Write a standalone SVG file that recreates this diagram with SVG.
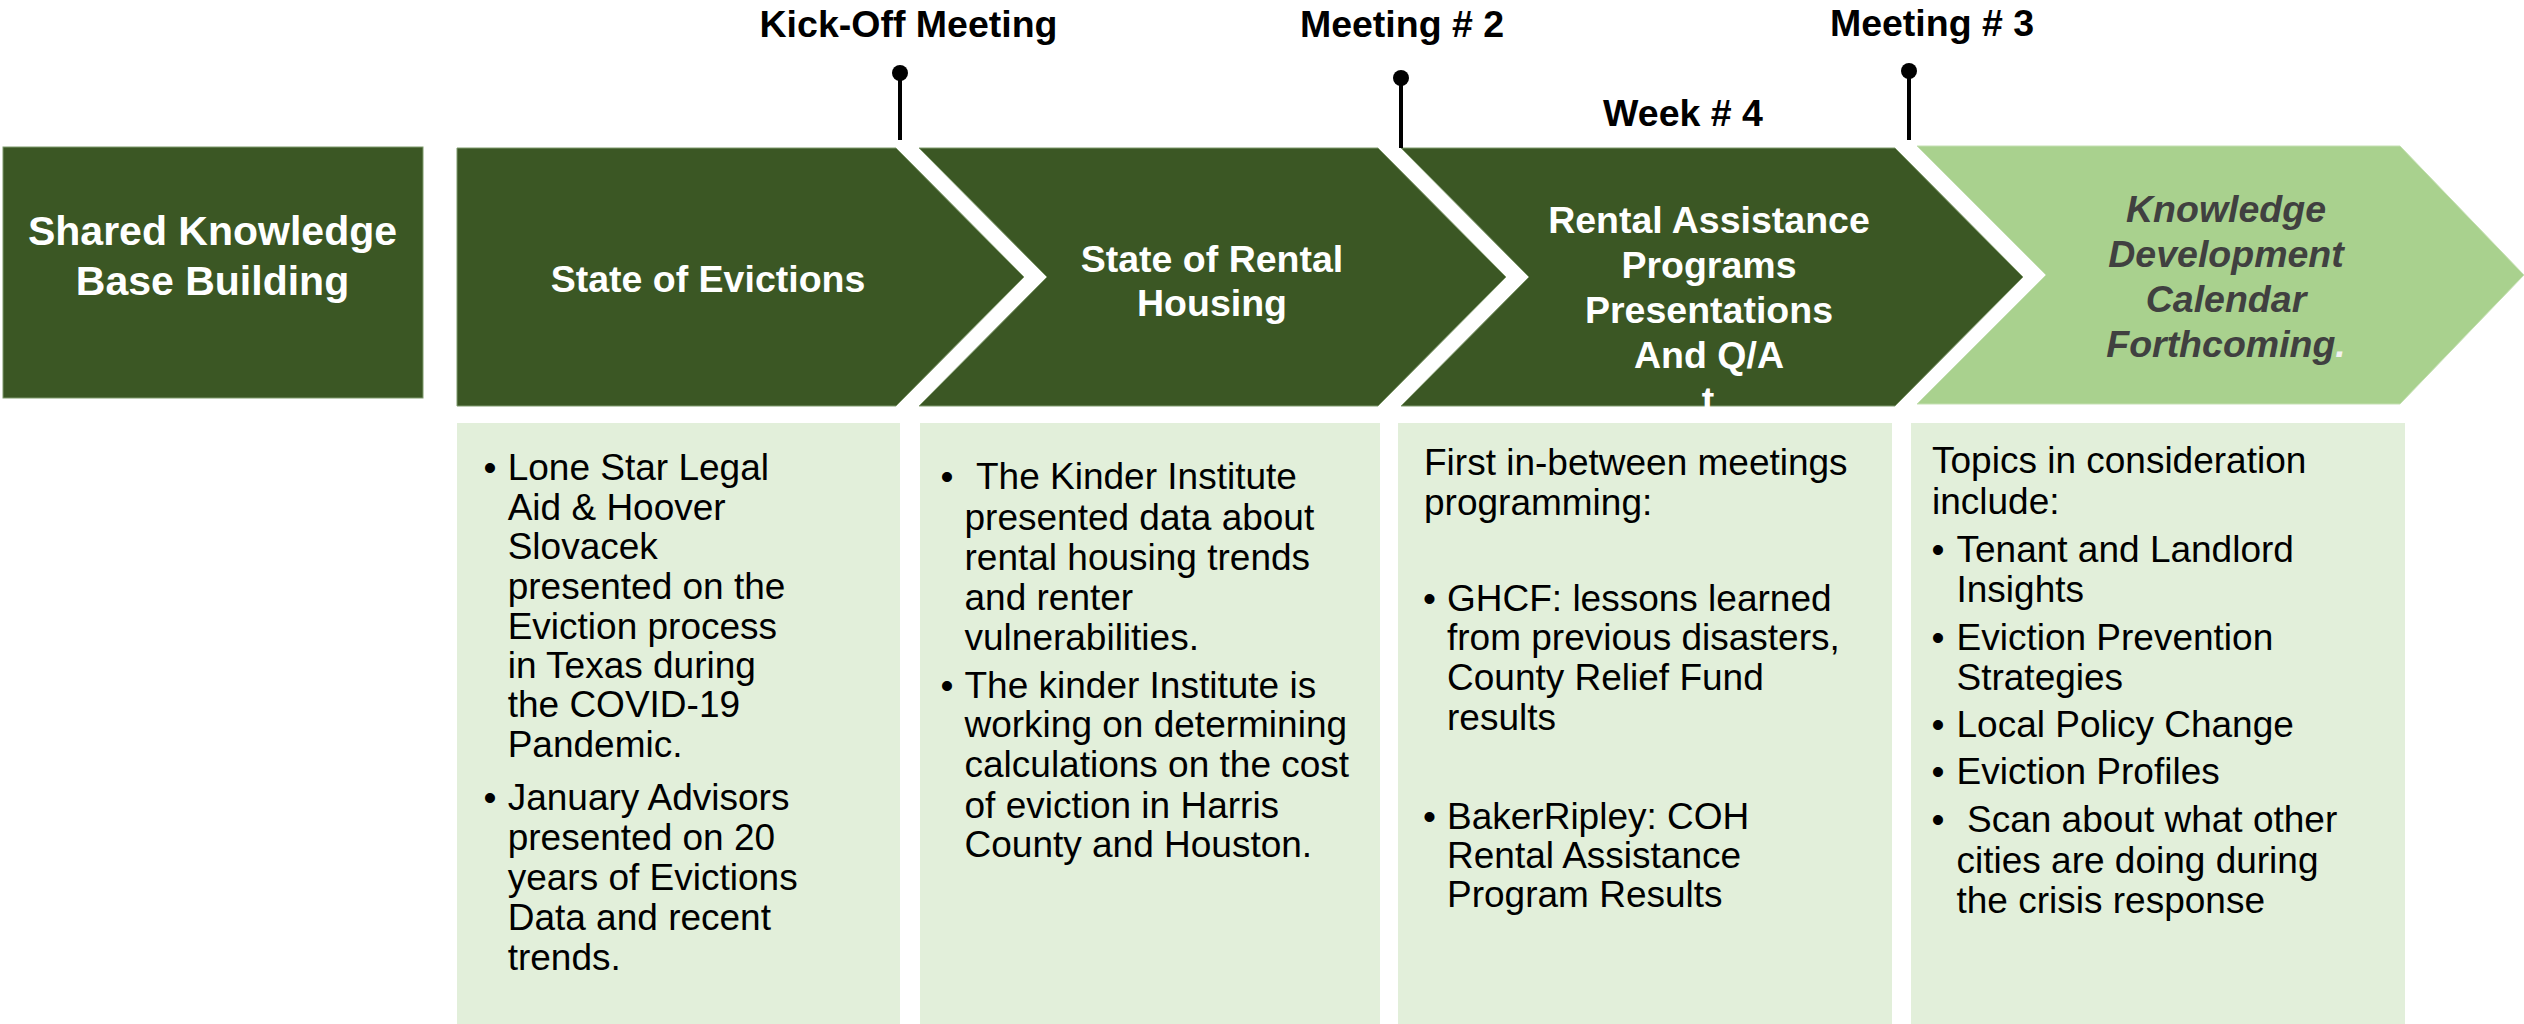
<svg xmlns="http://www.w3.org/2000/svg" width="2524" height="1024" viewBox="0 0 2524 1024">
<style>
.dark{fill:#3b5724;stroke:#7f9a6c;stroke-width:1}
.light{fill:#a9d18e;stroke:#c5e0b3;stroke-width:1}
.box{fill:#e2efda}
.hd{font-family:"Liberation Sans",Arial,sans-serif;font-weight:bold;font-size:37.5px;fill:#ffffff;text-anchor:middle}
.ms{font-family:"Liberation Sans",Arial,sans-serif;font-weight:bold;font-size:37.5px;fill:#000000;text-anchor:middle}
.it{font-family:"Liberation Sans",Arial,sans-serif;font-weight:bold;font-style:italic;font-size:37.5px;fill:#404040;text-anchor:middle}
.bd{font-family:"Liberation Sans",Arial,sans-serif;font-size:37px;fill:#000000}
.pin{stroke:#000000;stroke-width:4}
</style>
<rect width="2524" height="1024" fill="#ffffff"/>

<g id="shared-knowledge">
<rect x="3" y="147" width="420" height="251" class="dark"/>
<text class="hd" style="font-size:41px" x="212.5" y="245">Shared Knowledge</text>
<text class="hd" style="font-size:41px" x="212.5" y="295">Base Building</text>
</g>

<g id="state-of-evictions">
<polygon class="dark" points="457,148 896,148 1024,277 896,406 457,406"/>
<text class="hd" x="708" y="291.5">State of Evictions</text>
</g>

<g id="state-of-rental-housing">
<polygon class="dark" points="919,148 1378,148 1506,277 1378,406 919,406 1047,277"/>
<text class="hd" x="1212" y="271.5">State of Rental</text>
<text class="hd" x="1212" y="316">Housing</text>
</g>

<g id="rental-assistance">
<polygon class="dark" points="1401,148 1895,148 2023,277 1895,406 1401,406 1529,277"/>
<text class="hd" x="1709" y="232.7">Rental Assistance</text>
<text class="hd" x="1709" y="278">Programs</text>
<text class="hd" x="1709" y="322.7">Presentations</text>
<text class="hd" x="1709" y="367.7">And Q/A</text>
<text class="hd" x="1708" y="413">t</text>
</g>

<g id="knowledge-development">
<polygon class="light" points="1917,146 2400,146 2524,275 2400,404 1917,404 2046,275"/>
<text class="it" x="2226" y="221.7">Knowledge</text>
<text class="it" x="2226" y="266.7">Development</text>
<text class="it" x="2226" y="311.7">Calendar</text>
<text class="it" x="2226" y="356.7">Forthcoming<tspan fill="#f2f2f2">.</tspan></text>
</g>

<g id="milestones">
<g id="kick-off">
<text class="ms" x="908.5" y="36.5">Kick-Off Meeting</text>
<line class="pin" x1="900" y1="73" x2="900" y2="140"/>
<circle cx="900" cy="73" r="8" fill="#000000"/>
</g>
<g id="meeting-2">
<text class="ms" x="1402" y="36.5">Meeting # 2</text>
<line class="pin" x1="1401" y1="78" x2="1401" y2="148"/>
<circle cx="1401" cy="78" r="8" fill="#000000"/>
</g>
<g id="week-4">
<text class="ms" x="1683" y="126">Week # 4</text>
</g>
<g id="meeting-3">
<text class="ms" x="1932" y="35.5">Meeting # 3</text>
<line class="pin" x1="1909" y1="71" x2="1909" y2="140"/>
<circle cx="1909" cy="71" r="8" fill="#000000"/>
</g>
</g>

<g id="connectors"></g>

<g id="notes-evictions">
<rect class="box" x="457" y="423" width="443" height="601"/>
<text class="bd" x="483.5" y="480">•</text>
<text class="bd" x="507.7" y="480">Lone Star Legal</text>
<text class="bd" x="507.7" y="520">Aid &amp; Hoover</text>
<text class="bd" x="507.7" y="559">Slovacek</text>
<text class="bd" x="507.7" y="599">presented on the</text>
<text class="bd" x="507.7" y="639">Eviction process</text>
<text class="bd" x="507.7" y="678">in Texas during</text>
<text class="bd" x="507.7" y="717">the COVID-19</text>
<text class="bd" x="507.7" y="757">Pandemic.</text>
<text class="bd" x="483.5" y="810">•</text>
<text class="bd" x="507.7" y="810">January Advisors</text>
<text class="bd" x="507.7" y="850">presented on 20</text>
<text class="bd" x="507.7" y="890">years of Evictions</text>
<text class="bd" x="507.7" y="930">Data and recent</text>
<text class="bd" x="507.7" y="970">trends.</text>
</g>

<g id="notes-rental-housing">
<rect class="box" x="920" y="423" width="460" height="601"/>
<text class="bd" x="940.5" y="489">•</text>
<text class="bd" x="976" y="489">The Kinder Institute</text>
<text class="bd" x="964.5" y="530">presented data about</text>
<text class="bd" x="964.5" y="570">rental housing trends</text>
<text class="bd" x="964.5" y="610">and renter</text>
<text class="bd" x="964.5" y="650">vulnerabilities.</text>
<text class="bd" x="940.5" y="698">•</text>
<text class="bd" x="964.5" y="698">The kinder Institute is</text>
<text class="bd" x="964.5" y="737">working on determining</text>
<text class="bd" x="964.5" y="777">calculations on the cost</text>
<text class="bd" x="964.5" y="818">of eviction in Harris</text>
<text class="bd" x="964.5" y="857">County and Houston.</text>
</g>

<g id="notes-rental-assistance">
<rect class="box" x="1398" y="423" width="494" height="601"/>
<text class="bd" x="1424" y="475">First in-between meetings</text>
<text class="bd" x="1424" y="515">programming:</text>
<text class="bd" x="1423" y="611">•</text>
<text class="bd" x="1447" y="611">GHCF: lessons learned</text>
<text class="bd" x="1447" y="650">from previous disasters,</text>
<text class="bd" x="1447" y="690">County Relief Fund</text>
<text class="bd" x="1447" y="730">results</text>
<text class="bd" x="1423" y="829">•</text>
<text class="bd" x="1447" y="829">BakerRipley: COH</text>
<text class="bd" x="1447" y="868">Rental Assistance</text>
<text class="bd" x="1447" y="907">Program Results</text>
</g>

<g id="notes-topics">
<rect class="box" x="1911" y="423" width="494" height="601"/>
<text class="bd" x="1932" y="473">Topics in consideration</text>
<text class="bd" x="1932" y="514">include:</text>
<text class="bd" x="1931.5" y="562">•</text>
<text class="bd" x="1956.5" y="562">Tenant and Landlord</text>
<text class="bd" x="1956.5" y="602">Insights</text>
<text class="bd" x="1931.5" y="650">•</text>
<text class="bd" x="1956.5" y="650">Eviction Prevention</text>
<text class="bd" x="1956.5" y="690">Strategies</text>
<text class="bd" x="1931.5" y="737">•</text>
<text class="bd" x="1956.5" y="737">Local Policy Change</text>
<text class="bd" x="1931.5" y="784">•</text>
<text class="bd" x="1956.5" y="784">Eviction Profiles</text>
<text class="bd" x="1931.5" y="832">•</text>
<text class="bd" x="1967" y="832">Scan about what other</text>
<text class="bd" x="1956.5" y="873">cities are doing during</text>
<text class="bd" x="1956.5" y="913">the crisis response</text>
</g>
</svg>
